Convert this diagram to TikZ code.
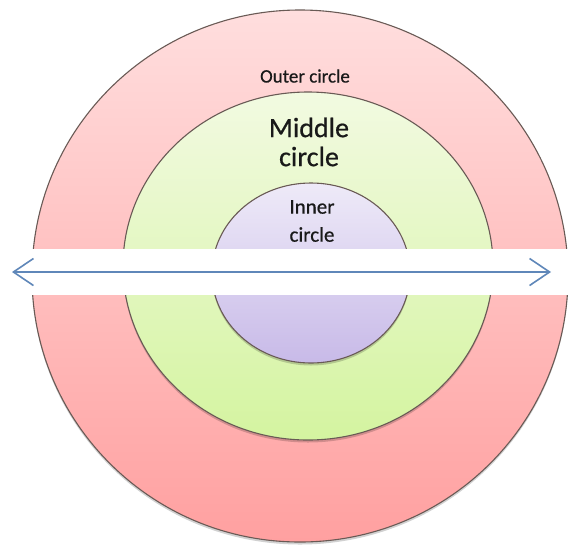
\documentclass[tikz,border=0pt]{standalone}
\usepackage{fontspec}
\setmainfont{Carlito}[FakeBold=0.6]
\usetikzlibrary{shapes.geometric,arrows.meta,shadows}
\definecolor{ringline}{RGB}{105,90,85}
\definecolor{arrowblue}{RGB}{95,135,185}
\tikzset{
  ring/.style={ellipse, draw=ringline, line width=1.1pt, inner sep=0pt,
    drop shadow={shadow xshift=0pt, shadow yshift=-2.5pt, opacity=0.18, fill=black}},
  label/.style={text=black!90, align=center, inner sep=0pt, font=\bfseries},
}
\begin{document}
\begin{tikzpicture}[x=1pt, y=-1pt]
  \useasboundingbox (0,0) rectangle (569,544);
  \clip (0,0) rectangle (569,544);
  \fill[white] (0,0) rectangle (569,544);

  % the three nested rings
  \node[ring, minimum width=536pt, minimum height=532pt,
        top color={rgb,255:red,255;green,222;blue,222},
        bottom color={rgb,255:red,255;green,160;blue,160}] (outer) at (300,276) {};
  \node[ring, minimum width=370pt, minimum height=348pt,
        top color={rgb,255:red,242;green,250;blue,225},
        bottom color={rgb,255:red,212;green,244;blue,160}] (middle) at (308,266) {};
  \node[ring, minimum width=198pt, minimum height=180pt,
        top color={rgb,255:red,238;green,234;blue,248},
        bottom color={rgb,255:red,200;green,186;blue,232}] (inner) at (311,273) {};

  % white strip across the rings
  \fill[white] (0,249) rectangle (569,295);

  % labels
  \node[label, font=\fontsize{19}{22}\selectfont] (outerlbl) at (305,76) {Outer circle};
  \node[label, font=\fontsize{28}{29}\selectfont] (middlelbl) at (309,142) {Middle\\circle};
  \node[label, font=\fontsize{21}{28}\selectfont] (innerlbl) at (312,221) {Inner\\circle};

  % double-headed arrow along the strip
  \coordinate (leftend) at (12,272);
  \coordinate (rightend) at (551,272);
  \draw[arrowblue, line width=1.6pt,
        {Straight Barb[length=20pt,width=27pt]}-{Straight Barb[length=20pt,width=27pt]}]
        (leftend) -- (rightend);
\end{tikzpicture}
\end{document}
